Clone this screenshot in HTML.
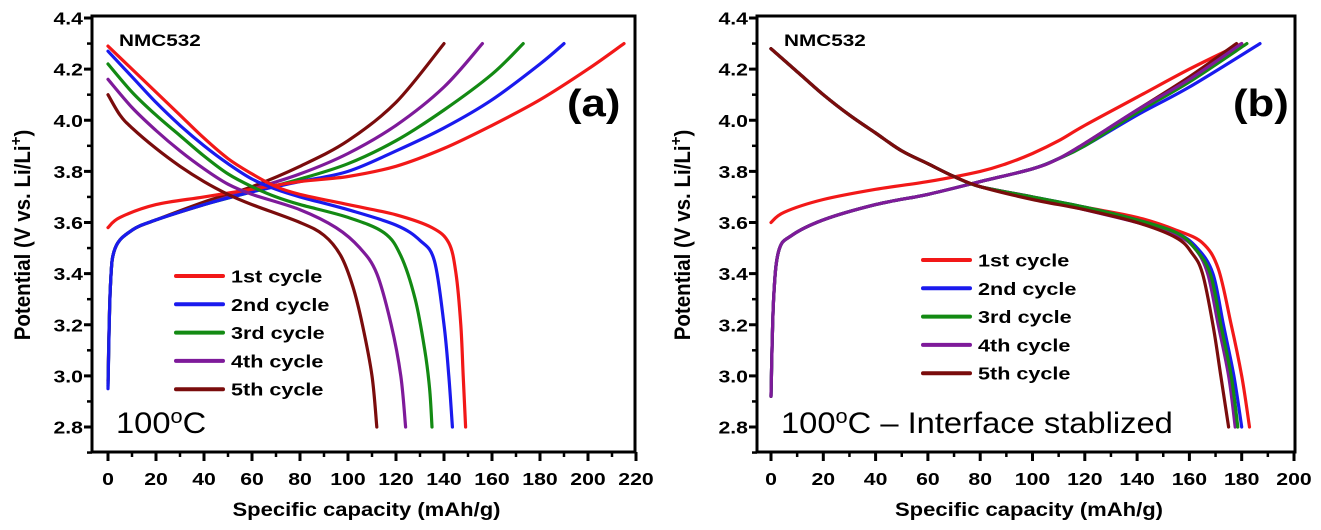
<!DOCTYPE html>
<html><head><meta charset="utf-8"><style>
body{margin:0;background:#fff;width:1321px;height:530px;overflow:hidden}
svg{display:block;font-family:"Liberation Sans",Arial,sans-serif}
</style></head><body>
<svg id="chart" width="1321" height="530" viewBox="0 0 1321 530"></svg>
<script>
const colors=['#f21818','#1a1aee','#138a13','#7e1a9a','#7a0c0c'];
const legendLabels=['1st cycle','2nd cycle','3rd cycle','4th cycle','5th cycle'];
const yTicks=[2.8,3.0,3.2,3.4,3.6,3.8,4.0,4.2,4.4];
const xTicksA=[0,20,40,60,80,100,120,140,160,180,200,220];
const xTicksB=[0,20,40,60,80,100,120,140,160,180,200];
// Panel (a) charge curves [capacity, voltage]
const chargeA1=[[0,3.58],[5,3.62],[20,3.67],[40,3.7],[60,3.73],[80,3.76],[100,3.78],[120,3.82],[140,3.89],[160,3.98],[180,4.08],[200,4.2],[215,4.3]];
const chargeA2=[[0,2.95],[1,3.35],[3,3.5],[10,3.57],[20,3.61],[40,3.67],[60,3.72],[80,3.76],[100,3.8],[120,3.88],[140,3.97],[160,4.08],[180,4.22],[190,4.3]];
const chargeA3=[[0,2.96],[1,3.35],[3,3.5],[10,3.57],[20,3.61],[40,3.67],[60,3.72],[80,3.77],[100,3.83],[120,3.92],[140,4.04],[160,4.18],[173,4.3]];
const chargeA4=[[0,2.97],[1,3.35],[3,3.5],[10,3.57],[20,3.61],[40,3.67],[60,3.73],[80,3.79],[100,3.87],[120,3.98],[140,4.13],[156,4.3]];
const chargeA5=[[0,2.98],[1,3.35],[3,3.5],[10,3.57],[20,3.61],[40,3.68],[60,3.74],[80,3.82],[100,3.92],[120,4.07],[140,4.3]];
// Panel (a) discharge curves
const dischA1=[[0,4.29],[10,4.2],[20,4.11],[30,4.02],[40,3.93],[50,3.85],[60,3.79],[70,3.74],[80,3.71],[100,3.67],[120,3.63],[135,3.58],[142,3.52],[145,3.4],[147,3.2],[148,3.0],[149,2.8]];
const dischA2=[[0,4.27],[10,4.17],[20,4.07],[30,3.98],[40,3.9],[50,3.83],[60,3.77],[70,3.73],[80,3.7],[100,3.65],[120,3.59],[130,3.53],[136,3.45],[140,3.2],[142,3.0],[143.5,2.8]];
const dischA3=[[0,4.22],[10,4.11],[20,4.02],[30,3.94],[40,3.86],[50,3.79],[60,3.74],[70,3.7],[80,3.67],[100,3.62],[115,3.56],[122,3.47],[128,3.3],[132,3.1],[134,2.95],[135,2.8]];
const dischA4=[[0,4.16],[10,4.05],[20,3.96],[30,3.88],[40,3.81],[50,3.75],[60,3.71],[80,3.65],[95,3.58],[105,3.5],[112,3.4],[118,3.2],[122,3.0],[124,2.8]];
const dischA5=[[0,4.1],[5,4.02],[10,3.97],[20,3.89],[30,3.82],[40,3.76],[50,3.71],[60,3.67],[80,3.6],[90,3.55],[97,3.47],[102,3.35],[106,3.2],[110,3.0],[112,2.8]];
// Panel (b) charge curves
const chargeB1=[[0,3.6],[5,3.64],[20,3.69],[40,3.73],[60,3.76],[80,3.8],[90,3.83],[100,3.87],[110,3.92],[120,3.98],[140,4.09],[160,4.2],[180,4.3]];
const chargeB2=[[0,2.92],[1,3.3],[3,3.49],[8,3.55],[20,3.61],[40,3.67],[60,3.71],[80,3.76],[100,3.81],[110,3.85],[120,3.9],[140,4.02],[160,4.13],[187,4.3]];
const chargeB3=[[0,2.92],[1,3.3],[3,3.49],[8,3.55],[20,3.61],[40,3.67],[60,3.71],[80,3.76],[100,3.81],[110,3.85],[120,3.9],[140,4.03],[160,4.15],[182,4.3]];
const chargeB4=[[0,2.92],[1,3.3],[3,3.49],[8,3.55],[20,3.61],[40,3.67],[60,3.71],[80,3.76],[100,3.81],[110,3.85],[120,3.91],[140,4.04],[160,4.16],[180,4.3]];
const chargeB5=[[0,2.92],[1,3.3],[3,3.49],[8,3.55],[20,3.61],[40,3.67],[60,3.71],[80,3.76],[100,3.81],[110,3.85],[120,3.91],[140,4.04],[160,4.17],[178,4.3]];
// Panel (b) discharge curves
const dischB1=[[0,4.28],[10,4.19],[20,4.1],[30,4.02],[40,3.95],[50,3.88],[60,3.83],[70,3.78],[80,3.74],[100,3.7],[120,3.66],[140,3.62],[155,3.57],[165,3.52],[171,3.42],[176,3.2],[180,3.0],[183,2.8]];
const dischB2=[[0,4.28],[10,4.19],[20,4.1],[30,4.02],[40,3.95],[50,3.88],[60,3.83],[70,3.78],[80,3.74],[100,3.7],[120,3.66],[140,3.61],[155,3.56],[163,3.5],[169,3.4],[173,3.2],[177,3.0],[180,2.8]];
const dischB3=[[0,4.28],[10,4.19],[20,4.1],[30,4.02],[40,3.95],[50,3.88],[60,3.83],[70,3.78],[80,3.74],[100,3.7],[120,3.66],[140,3.61],[155,3.56],[162,3.5],[168,3.4],[172,3.2],[176,3.0],[178.5,2.8]];
const dischB4=[[0,4.28],[10,4.19],[20,4.1],[30,4.02],[40,3.95],[50,3.88],[60,3.83],[70,3.78],[80,3.74],[100,3.7],[120,3.65],[140,3.6],[155,3.55],[162,3.5],[167,3.4],[171,3.2],[175,3.0],[177.5,2.8]];
const dischB5=[[0,4.28],[10,4.19],[20,4.1],[30,4.02],[40,3.95],[50,3.88],[60,3.83],[70,3.78],[80,3.74],[100,3.69],[120,3.65],[140,3.6],[155,3.54],[161,3.48],[165,3.4],[169,3.2],[172,3.0],[175,2.8]];

const NS='http://www.w3.org/2000/svg';
const svg=document.getElementById('chart');
function mk(tag,attrs,parent,text){const e=document.createElementNS(NS,tag);for(const k in attrs)e.setAttribute(k,attrs[k]);if(text!==undefined)e.textContent=text;(parent||svg).appendChild(e);return e;}
function txt(parent,x,y,anchor,size,weight,content,k){
  const g=mk('g',{transform:`translate(${x},${y}) scale(${k},1)`},parent);
  return mk('text',{x:0,y:0,'text-anchor':anchor,'font-size':size,'font-weight':weight},g,content);
}
function smooth(pts){
  let d='M'+pts[0][0].toFixed(1)+','+pts[0][1].toFixed(1);
  for(let i=0;i<pts.length-1;i++){
    const p0=pts[Math.max(0,i-1)],p1=pts[i],p2=pts[i+1],p3=pts[Math.min(pts.length-1,i+2)];
    const c1x=p1[0]+(p2[0]-p0[0])/6,c1y=p1[1]+(p2[1]-p0[1])/6;
    const c2x=p2[0]-(p3[0]-p1[0])/6,c2y=p2[1]-(p3[1]-p1[1])/6;
    d+=` C${c1x.toFixed(1)},${c1y.toFixed(1)} ${c2x.toFixed(1)},${c2y.toFixed(1)} ${p2[0].toFixed(1)},${p2[1].toFixed(1)}`;
  }
  return d;
}

function panel(cfg){
  const g=mk('g',{});
  
  
  const xs=v=>cfg.x0+v*(cfg.x1-cfg.x0)/cfg.xmax;
  const ys=v=>cfg.y0-(v-2.8)*(cfg.y0-cfg.y1)/1.6;
  const sg=mk('g',{},g);
  
  
  const draw=(arr,i,kind)=>{
    const p=mk('path',{d:smooth(arr.map(d=>[xs(d[0]),ys(d[1])])),fill:'none',stroke:colors[i],'stroke-width':3.2,'stroke-linejoin':'round','stroke-linecap':'round'},sg);
    
    
  };
  cfg.orderC.forEach(i=>draw(cfg.charge[i],i,'charge'));
  cfg.orderD.forEach(i=>draw(cfg.disch[i],i,'discharge'));
  const fr=mk('rect',{x:cfg.fl,y:cfg.ft,width:cfg.fr-cfg.fl,height:cfg.fb-cfg.ft,fill:'none',stroke:'#000','stroke-width':3},g);
  
  
  yTicks.forEach(t=>{
    const y=ys(t);
    mk('line',{x1:cfg.fl-8,x2:cfg.fl,y1:y,y2:y,stroke:'#000','stroke-width':3},g);
    const lb=txt(g,cfg.fl-9,y+6.5,'end',18,'bold',t.toFixed(1),1.18);
    
    
  });
  for(let t=2.7;t<=4.41;t+=0.1){const y=ys(t);if(y>cfg.ft-1&&y<cfg.fb+1)mk('line',{x1:cfg.fl-5,x2:cfg.fl,y1:y,y2:y,stroke:'#000','stroke-width':2.5},g);}
  cfg.xTicks.forEach(t=>{
    const x=xs(t);
    mk('line',{x1:x,x2:x,y1:cfg.fb,y2:cfg.fb+9,stroke:'#000','stroke-width':3},g);
    const lb=txt(g,x,485,'middle',18,'bold',String(t),1.18);
    
    
  });
  for(let t=10;t<cfg.xmax;t+=20)mk('line',{x1:xs(t),x2:xs(t),y1:cfg.fb,y2:cfg.fb+5,stroke:'#000','stroke-width':2.5},g);
  const xt=txt(g,(cfg.fl+cfg.fr)/2+3,516,'middle',19,'bold','Specific capacity (mAh/g)',1.16);
  
  
  const yg=mk('g',{transform:`translate(${cfg.ytx},235) rotate(-90) scale(1.08,1.15)`},g);
  const yt=mk('text',{x:0,y:0,'text-anchor':'middle','font-size':19,'font-weight':'bold'},yg);
  
  
  mk('tspan',{},yt,'Potential (V vs. Li/Li');
  mk('tspan',{dy:-8,'font-size':14},yt,'+');
  mk('tspan',{dy:8},yt,')');
  const nm=txt(g,cfg.fl+27,46,'start',17,'bold','NMC532',1.22);
  
  
  const pl=txt(g,cfg.plx,116,'start',38,'bold',cfg.plabel,1.15);
  
  
  const cg=mk('g',{transform:`translate(${cfg.fl+24},433) scale(1.09,1)`},g);
  const cond=mk('text',{x:0,y:0,'font-size':30},cg);
  
  
  mk('tspan',{},cond,'100');
  mk('tspan',{dy:-10,'font-size':20},cond,'o');
  mk('tspan',{dy:10},cond,'C'+cfg.condSuffix);
  const lg=mk('g',{},g);
  
  
  legendLabels.forEach((l,i)=>{
    const y=cfg.legY+i*28.3;
    const e=mk('g',{},lg);
    
    
    mk('line',{x1:cfg.legX,x2:cfg.legX+47,y1:y,y2:y,stroke:colors[i],'stroke-width':4,'stroke-linecap':'round'},e);
    txt(e,cfg.legX+55,y+6.5,'start',18,'bold',l,1.2);
  });
}
panel({name:'panel-a',x0:108,x1:636,xmax:220,y0:427,y1:18,fl:92,fr:635,ft:16,fb:452,xTicks:xTicksA,
  charge:[chargeA1,chargeA2,chargeA3,chargeA4,chargeA5],disch:[dischA1,dischA2,dischA3,dischA4,dischA5],
  orderC:[4,3,2,1,0],orderD:[4,3,2,1,0],ytx:30,plx:567,plabel:'(a)',condSuffix:'',legX:176,legY:276});
panel({name:'panel-b',x0:771,x1:1294,xmax:200,y0:427,y1:18,fl:757,fr:1295,ft:16,fb:452,xTicks:xTicksB,
  charge:[chargeB1,chargeB2,chargeB3,chargeB4,chargeB5],disch:[dischB1,dischB2,dischB3,dischB4,dischB5],
  orderC:[0,4,1,2,3],orderD:[0,1,3,2,4],ytx:690,plx:1233,plabel:'(b)',condSuffix:' \u2013 Interface stablized',legX:923,legY:260});
</script>
</body></html>
